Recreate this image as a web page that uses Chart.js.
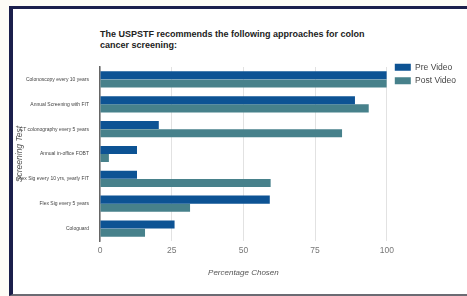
<!DOCTYPE html>
<html>
<head>
<meta charset="utf-8">
<script src="https://cdn.jsdelivr.net/npm/chart.js@4.4.1/dist/chart.umd.min.js"></script>
<style>
  html, body { margin:0; padding:0; width:467px; height:296px; overflow:hidden; background:#fdfcf6; font-family:"Liberation Sans", Arial, sans-serif; }
  #frame { position:absolute; left:9px; top:6px; width:470px; height:285px; background:#fff;
           border-top:3px solid #1b1f4b; border-left:4px solid #1b1f4b; border-bottom:2px solid #6b6b73; }
  #title { position:absolute; left:100px; top:29px; font-size:9px; font-weight:bold; color:#222; line-height:11px; }
  #wrap { position:absolute; left:0px; top:56px; width:467px; height:236px; }
</style>
</head>
<body>
<div id="frame"></div>
<div id="title">The USPSTF recommends the following approaches for colon<br>cancer screening:</div>
<div id="wrap"><canvas id="c"></canvas></div>
<script>
const categories = [
  "Colonoscopy every 10 years",
  "Annual Screening with FIT",
  "CT colonography every 5 years",
  "Annual in-office FOBT",
  "Flex Sig every 10 yrs, yearly FIT",
  "Flex Sig every 5 years",
  "Cologuard"
];
const preVideo  = [100, 88.9, 20.5, 12.9, 12.9, 59.2, 26.0];
const postVideo = [100, 93.7, 84.4, 3.1, 59.5, 31.4, 15.7];
const xTicks = [0, 25, 50, 75, 100];

const legendShift = {
  id: 'legendShift',
  afterLayout(chart) {
    const lg = chart.legend;
    if (!lg) return;
    lg.top -= 9; lg.bottom -= 9;
    lg.left += 3; lg.right += 3;
    (lg.legendHitBoxes || []).forEach(b => { b.top -= 9; b.left += 3; });
  }
};

new Chart(document.getElementById('c'), {
  type: 'bar',
  data: {
    labels: categories,
    datasets: [
      { label: 'Pre Video', data: preVideo, backgroundColor: '#0d5394', borderWidth: 0,
        barPercentage: 0.98, categoryPercentage: 0.66 },
      { label: 'Post Video', data: postVideo, backgroundColor: '#47818b', borderWidth: 0,
        barPercentage: 0.98, categoryPercentage: 0.66 }
    ]
  },
  plugins: [legendShift],
  options: {
    indexAxis: 'y',
    responsive: true,
    maintainAspectRatio: false,
    animation: false,
    layout: { padding: { top: 11, right: 4, bottom: 10, left: 0 } },
    plugins: {
      title: { display: false },
      tooltip: { enabled: false },
      legend: {
        position: 'right', align: 'start',
        labels: { boxWidth: 16, boxHeight: 7, padding: 5, color: '#444',
                  font: { size: 8.5, family: '"Liberation Sans", Arial, sans-serif' } }
      }
    },
    scales: {
      x: {
        min: 0, max: 100,
        afterBuildTicks: (s) => { s.ticks = xTicks.map(v => ({ value: v })); },
        afterFit: (s) => { s.height = 41; },
        grid: { color: '#e2e2e2', drawTicks: false, lineWidth: 1 },
        border: { display: false },
        ticks: { color: '#777', padding: 5, font: { size: 8.5, family: '"Liberation Sans", Arial, sans-serif' } },
        title: { display: true, text: 'Percentage Chosen', color: '#555', padding: { top: 4, bottom: 4 },
                 font: { size: 8, style: 'italic', family: '"Liberation Sans", Arial, sans-serif' } }
      },
      y: {
        afterFit: (s) => { s.width = 100; },
        grid: { display: false },
        border: { display: true, color: '#666', width: 1.5 },
        ticks: { color: '#444', padding: 3, font: { size: 5, family: '"Liberation Sans", Arial, sans-serif' } },
        title: { display: true, text: 'Screening Test', color: '#555', padding: { top: 15, bottom: 0 },
                 font: { size: 8.5, style: 'italic', family: '"Liberation Sans", Arial, sans-serif' } }
      }
    }
  }
});
</script>
</body>
</html>
